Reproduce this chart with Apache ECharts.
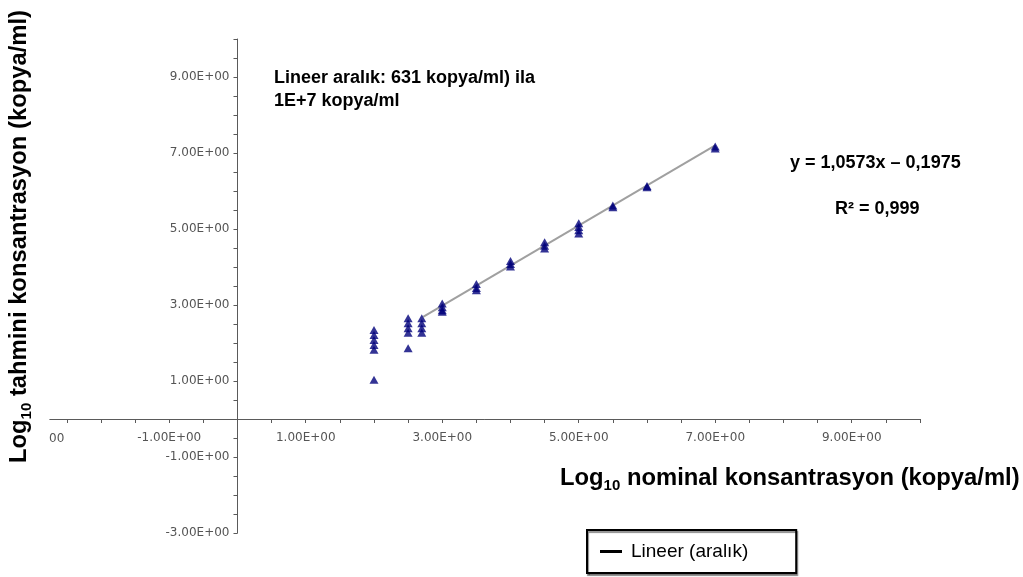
<!DOCTYPE html>
<html>
<head>
<meta charset="utf-8">
<script src="https://cdn.jsdelivr.net/npm/echarts@6/dist/echarts.min.js"></script>
<style>
  html, body { margin: 0; padding: 0; background: #fff; }
  #chart { width: 1023px; height: 577px; }
</style>
</head>
<body>
<div id="chart"></div>
<script>
// ---- data ----
const nominalLevels = [2, 2.5, 2.7, 3, 3.5, 4, 4.5, 5, 5.5, 6, 7];
const estimatedAt2   = [2.34, 2.21, 2.08, 1.95, 1.82, 1.03];
const estimatedAt2_5 = [2.65, 2.52, 2.39, 2.27, 1.86];
const estimatedAt2_7 = [2.65, 2.52, 2.39, 2.27];
const estimatedAt3   = [3.04, 2.94, 2.86, 2.82];
const estimatedAt3_5 = [3.55, 3.45, 3.39];
const estimatedAt4   = [4.16, 4.08, 4.01];
const estimatedAt4_5 = [4.65, 4.56, 4.49];
const estimatedAt5   = [5.15, 5.05, 4.97, 4.88];
const estimatedAt5_5 = [5.62, 5.57];
const estimatedAt6   = [6.13, 6.10];
const estimatedAt7   = [7.17, 7.12];
const trendStart = [2.72, 2.69];
const trendEnd   = [7.0, 7.20];
const xLabelValues = [-1, 1, 3, 5, 7, 9];
const yLabelValues = [-3, -1, 1, 3, 5, 7, 9];
const xTickValues = [-2.5, -2, -1.5, -1, -0.5, 0, 0.5, 1, 1.5, 2, 2.5, 3, 3.5, 4, 4.5, 5, 5.5, 6, 6.5, 7, 7.5, 8, 8.5, 9, 9.5, 10];
const yTickValues = [-3, -2.5, -2, -1.5, -1, -0.5, 0, 0.5, 1, 1.5, 2, 2.5, 3, 3.5, 4, 4.5, 5, 5.5, 6, 6.5, 7, 7.5, 8, 8.5, 9, 9.5, 10];
const legendName = 'Lineer (aralık)';
const rangeText = 'Lineer aralık: 631 kopya/ml) ila\n1E+7 kopya/ml';
const equationText = 'y = 1,0573x – 0,1975';
const r2Text = 'R² = 0,999';

const groups = [estimatedAt2, estimatedAt2_5, estimatedAt2_7, estimatedAt3, estimatedAt3_5,
  estimatedAt4, estimatedAt4_5, estimatedAt5, estimatedAt5_5, estimatedAt6, estimatedAt7];
const scatterData = [];
nominalLevels.forEach((x, i) => groups[i].forEach(y => scatterData.push([x, y])));

const fmt = v => v.toFixed(2) + 'E+00';
const axisColor = '#5a5a5a';
const labelStyle = { color: '#555', fontFamily: 'DejaVu Sans', fontSize: 12 };

// grid geometry: x from -2.75 to 10, y from -3 to 10; axes drawn through the origin
const gridLeft = 49.8, gridRight = 103, gridTop = 39, gridBottom = 44;
const xMin = -2.75, xMax = 10, yMin = -3, yMax = 10;
const plotW = 1023 - gridLeft - gridRight, plotH = 577 - gridTop - gridBottom;
const yAxisShift = -plotW * (0 - xMin) / (xMax - xMin);
const xAxisShift = -plotH * (0 - yMin) / (yMax - yMin);

const chart = echarts.init(document.getElementById('chart'), null, { renderer: 'canvas' });
chart.setOption({
  backgroundColor: '#fff',
  animation: false,
  grid: { left: gridLeft, right: gridRight, top: gridTop, bottom: gridBottom, containLabel: false, outerBoundsMode: 'none' },
  xAxis: {
    type: 'value', min: xMin, max: xMax, offset: xAxisShift,
    axisLine: { onZero: false, lineStyle: { color: axisColor, width: 1 } },
    axisTick: { show: true, length: 4, customValues: xTickValues, lineStyle: { color: axisColor } },
    axisLabel: Object.assign({ margin: 13, customValues: xLabelValues, formatter: fmt }, labelStyle),
    splitLine: { show: false }
  },
  yAxis: {
    type: 'value', min: yMin, max: yMax, offset: yAxisShift,
    axisLine: { show: true, onZero: false, lineStyle: { color: axisColor, width: 1 } },
    axisTick: { show: true, length: 4, customValues: yTickValues, lineStyle: { color: axisColor } },
    axisLabel: Object.assign({ margin: 8, customValues: yLabelValues, formatter: fmt }, labelStyle),
    splitLine: { show: false }
  },
  legend: {
    data: [{ name: legendName, icon: 'rect', itemStyle: { color: '#000' } }],
    left: 587, top: 530,
    itemWidth: 22, itemHeight: 3,
    padding: [12, 48, 12, 13],
    backgroundColor: '#fff',
    borderColor: '#000', borderWidth: 2, borderRadius: 0,
    shadowColor: 'rgba(0,0,0,0.45)', shadowOffsetX: 1, shadowOffsetY: 2, shadowBlur: 1,
    textStyle: { color: '#000', fontFamily: 'Liberation Sans', fontSize: 19, padding: [0, 0, 0, 4] },
    selectedMode: false
  },
  series: [
    {
      name: legendName, type: 'line', z: 1,
      data: [trendStart, trendEnd],
      showSymbol: false, symbol: 'none',
      lineStyle: { color: '#a0a0a0', width: 2 },
      itemStyle: { color: '#a0a0a0' }
    },
    {
      name: 'Veri', type: 'scatter', z: 3,
      data: scatterData,
      symbol: 'triangle', symbolSize: [9, 8],
      itemStyle: { color: '#00007a' }
    }
  ],
  graphic: [
    {
      type: 'text', left: 274, top: 67,
      style: { text: rangeText, fill: '#000', font: 'bold 18px "Liberation Sans"', lineHeight: 23 }
    },
    {
      type: 'text', left: 790, top: 154,
      style: { text: equationText, fill: '#000', font: 'bold 18px "Liberation Sans"' }
    },
    {
      type: 'text', left: 835, top: 200,
      style: { text: r2Text, fill: '#000', font: 'bold 18px "Liberation Sans"' }
    },
    {
      type: 'text', left: 49, top: 433,
      style: { text: '00', fill: '#555', font: '12px "DejaVu Sans"' }
    },
    {
      type: 'text', x: 560, y: 478,
      style: {
        text: '{a|Log}{s|10}{a| nominal konsantrasyon (kopya/ml)}',
        fill: '#000', textAlign: 'left', textVerticalAlign: 'middle',
        rich: {
          a: { font: 'bold 23.8px "Liberation Sans"', lineHeight: 26, verticalAlign: 'middle' },
          s: { font: 'bold 15px "Liberation Sans"', lineHeight: 30, verticalAlign: 'bottom' }
        }
      }
    },
    {
      type: 'text', x: 19, y: 463, rotation: Math.PI / 2,
      style: {
        text: '{a|Log}{s|10}{a| tahmini konsantrasyon (kopya/ml)}',
        fill: '#000', textAlign: 'left', textVerticalAlign: 'middle',
        rich: {
          a: { font: 'bold 23.8px "Liberation Sans"', lineHeight: 26, verticalAlign: 'middle' },
          s: { font: 'bold 15px "Liberation Sans"', lineHeight: 30, verticalAlign: 'bottom' }
        }
      }
    }
  ]
});
</script>
</body>
</html>
